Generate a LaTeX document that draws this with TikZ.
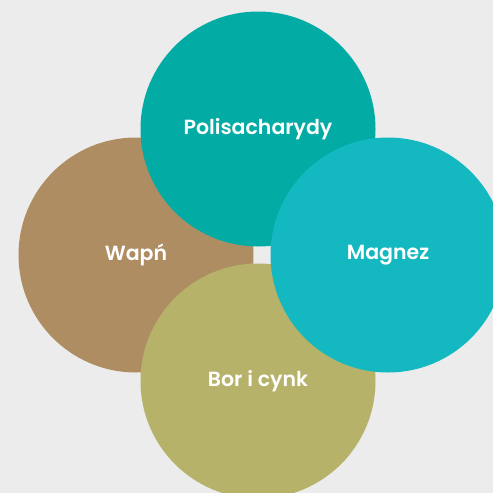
\documentclass[tikz,border=0pt]{standalone}
\usepackage{fontspec}
\setmainfont{Poppins}[UprightFont=* SemiBold, BoldFont=* Bold]
\usepackage{tikz}
\usetikzlibrary{positioning}
\usepackage{xcolor}
\definecolor{bg}{RGB}{236,236,236}
\definecolor{cteal}{RGB}{3,171,165}
\definecolor{ccyan}{RGB}{20,184,192}
\definecolor{cbrown}{RGB}{175,141,99}
\definecolor{colive}{RGB}{182,178,106}

\begin{document}
\begin{tikzpicture}[x=1pt, y=-1pt,
  bubble/.style = {circle, minimum size=235pt, inner sep=0pt, text=white, font=\fontsize{20.5}{24}\selectfont}]
\path[use as bounding box, fill=bg] (0,0) rectangle (493,493);
\clip (0,0) rectangle (493,493);
\node[bubble, fill=cbrown] (wapn) at (136,255) {Wapń};
\node[bubble, fill=cteal] (poli) at (258,129) {Polisacharydy};
\node[bubble, fill=colive] (bor) at (258,381) {Bor i cynk};
\node[bubble, fill=ccyan] (mag) at (388,255) {Magnez};
\end{tikzpicture}
\end{document}
